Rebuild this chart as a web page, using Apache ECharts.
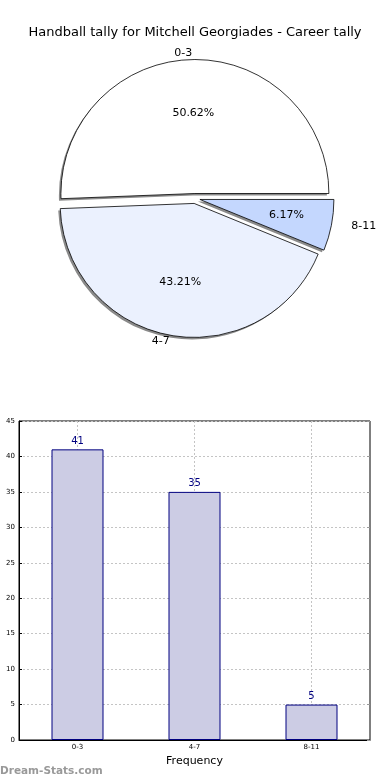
<!DOCTYPE html>
<html><head><meta charset="utf-8">
<script src="https://cdn.jsdelivr.net/npm/echarts@6/dist/echarts.min.js"></script>
<style>html,body{margin:0;padding:0;background:#fff}#c{width:390px;height:780px}</style>
</head><body><div id="c"></div>
<script>
const titleText = 'Handball tally for Mitchell Georgiades - Career tally';
const categories = ['0-3', '4-7', '8-11'];
const counts = [41, 35, 5];
const pieColors = ['#ffffff', '#ebf1fe', '#c4d7fe'];
const yTicks = { min: 0, max: 45, interval: 5 };
const xAxisName = 'Frequency';
const watermark = 'Dream-Stats.com';

const total = counts.reduce((a, b) => a + b, 0);
const FONT = 'DejaVu Sans';
const center = [195, 198.5];
const shadowCenter = [193, 200.5];
const R = 134;

const chart = echarts.init(document.getElementById('c'), null, { renderer: 'canvas' });
// horizontal nudges compensate for the reference's slightly oval pie
const outerPad = [0, 0, 14];
const innerPad = [0, 0, 16];
const pieData = categories.map((c, i) => ({
  name: c, value: counts[i], selected: true,
  itemStyle: { color: pieColors[i] },
  label: { padding: [0, 0, 0, outerPad[i]] }
}));
const shadowData = categories.map((c, i) => ({ name: c, value: counts[i], selected: true }));
const pctData = categories.map((c, i) => ({
  name: c, value: counts[i], selected: true,
  label: { formatter: (counts[i] / total * 100).toFixed(2) + '%', padding: [0, 0, 0, innerPad[i]] }
}));
const grid = { color: '#c4c4c4', type: [2, 2], width: 1 };
const pieCommon = { startAngle: 0, clockwise: false, selectedMode: 'multiple', selectedOffset: 5, avoidLabelOverlap: false, silent: true };

chart.setOption({
  animation: false,
  textStyle: { fontFamily: FONT },
  title: {
    text: titleText, left: 'center', top: 21,
    textStyle: { fontFamily: FONT, fontSize: 13, fontWeight: 'normal', color: '#000' }
  },
  graphic: [{
    type: 'text', left: 0, bottom: 3,
    style: { text: watermark, fill: '#999999', font: 'bold 10.5px "DejaVu Sans"' }
  }],
  grid: {
    left: 19, right: 20, top: 421, bottom: 40, show: true,
    borderColor: '#000', borderWidth: 1, backgroundColor: 'transparent'
  },
  xAxis: {
    type: 'category', data: categories,
    axisLine: { lineStyle: { color: '#000' } },
    axisTick: { show: false },
    axisLabel: { fontSize: 7, color: '#000', margin: 4, fontFamily: FONT },
    splitLine: { show: true, alignWithLabel: true, lineStyle: grid },
    name: xAxisName, nameLocation: 'middle', nameGap: 16,
    nameTextStyle: { fontSize: 11, color: '#000', fontFamily: FONT }
  },
  yAxis: [{
    type: 'value', min: yTicks.min, max: yTicks.max, interval: yTicks.interval,
    axisLine: { show: true, lineStyle: { color: '#000' } },
    axisTick: { show: true, inside: true, length: 3, lineStyle: { color: '#000' } },
    axisLabel: { fontSize: 7, color: '#000', margin: 4, fontFamily: FONT },
    splitLine: { show: true, lineStyle: grid }
  }, {
    type: 'value', position: 'right', min: yTicks.min, max: yTicks.max, interval: yTicks.interval,
    axisLine: { show: false },
    axisTick: { show: true, inside: true, length: 3, lineStyle: { color: '#999' } },
    axisLabel: { show: false },
    splitLine: { show: false }
  }],
  series: [
    Object.assign({}, pieCommon, {
      type: 'pie', center: shadowCenter, radius: R, z: 1,
      data: shadowData,
      itemStyle: { color: '#8a8a8a', borderWidth: 0 },
      select: { itemStyle: { color: '#8a8a8a', borderWidth: 0 } },
      label: { show: false }, labelLine: { show: false }
    }),
    Object.assign({}, pieCommon, {
      type: 'pie', center: center, radius: R, z: 2,
      data: pieData,
      itemStyle: { borderColor: '#000', borderWidth: 0.8 },
      select: { itemStyle: { borderColor: '#000', borderWidth: 0.8 } },
      label: { show: true, position: 'outside', fontSize: 11, color: '#000', fontFamily: FONT, distanceToLabelLine: 0 },
      labelLine: { show: false, length: 6, length2: 0 }
    }),
    Object.assign({}, pieCommon, {
      type: 'pie', center: center, radius: [57, 97], z: 5,
      data: pctData,
      itemStyle: { color: 'rgba(0,0,0,0)', borderWidth: 0 },
      select: { itemStyle: { color: 'rgba(0,0,0,0)', borderWidth: 0 } },
      label: { show: true, position: 'inside', fontSize: 11, color: '#000', fontFamily: FONT },
      labelLine: { show: false }
    }),
    {
      type: 'bar', data: counts, barWidth: 52, yAxisIndex: 0,
      itemStyle: { color: '#ccccE4', borderColor: '#000080', borderWidth: 1 },
      label: { show: true, position: 'top', distance: 3, fontSize: 10, color: '#000080', fontFamily: FONT },
      silent: true
    }
  ]
});
</script></body></html>
